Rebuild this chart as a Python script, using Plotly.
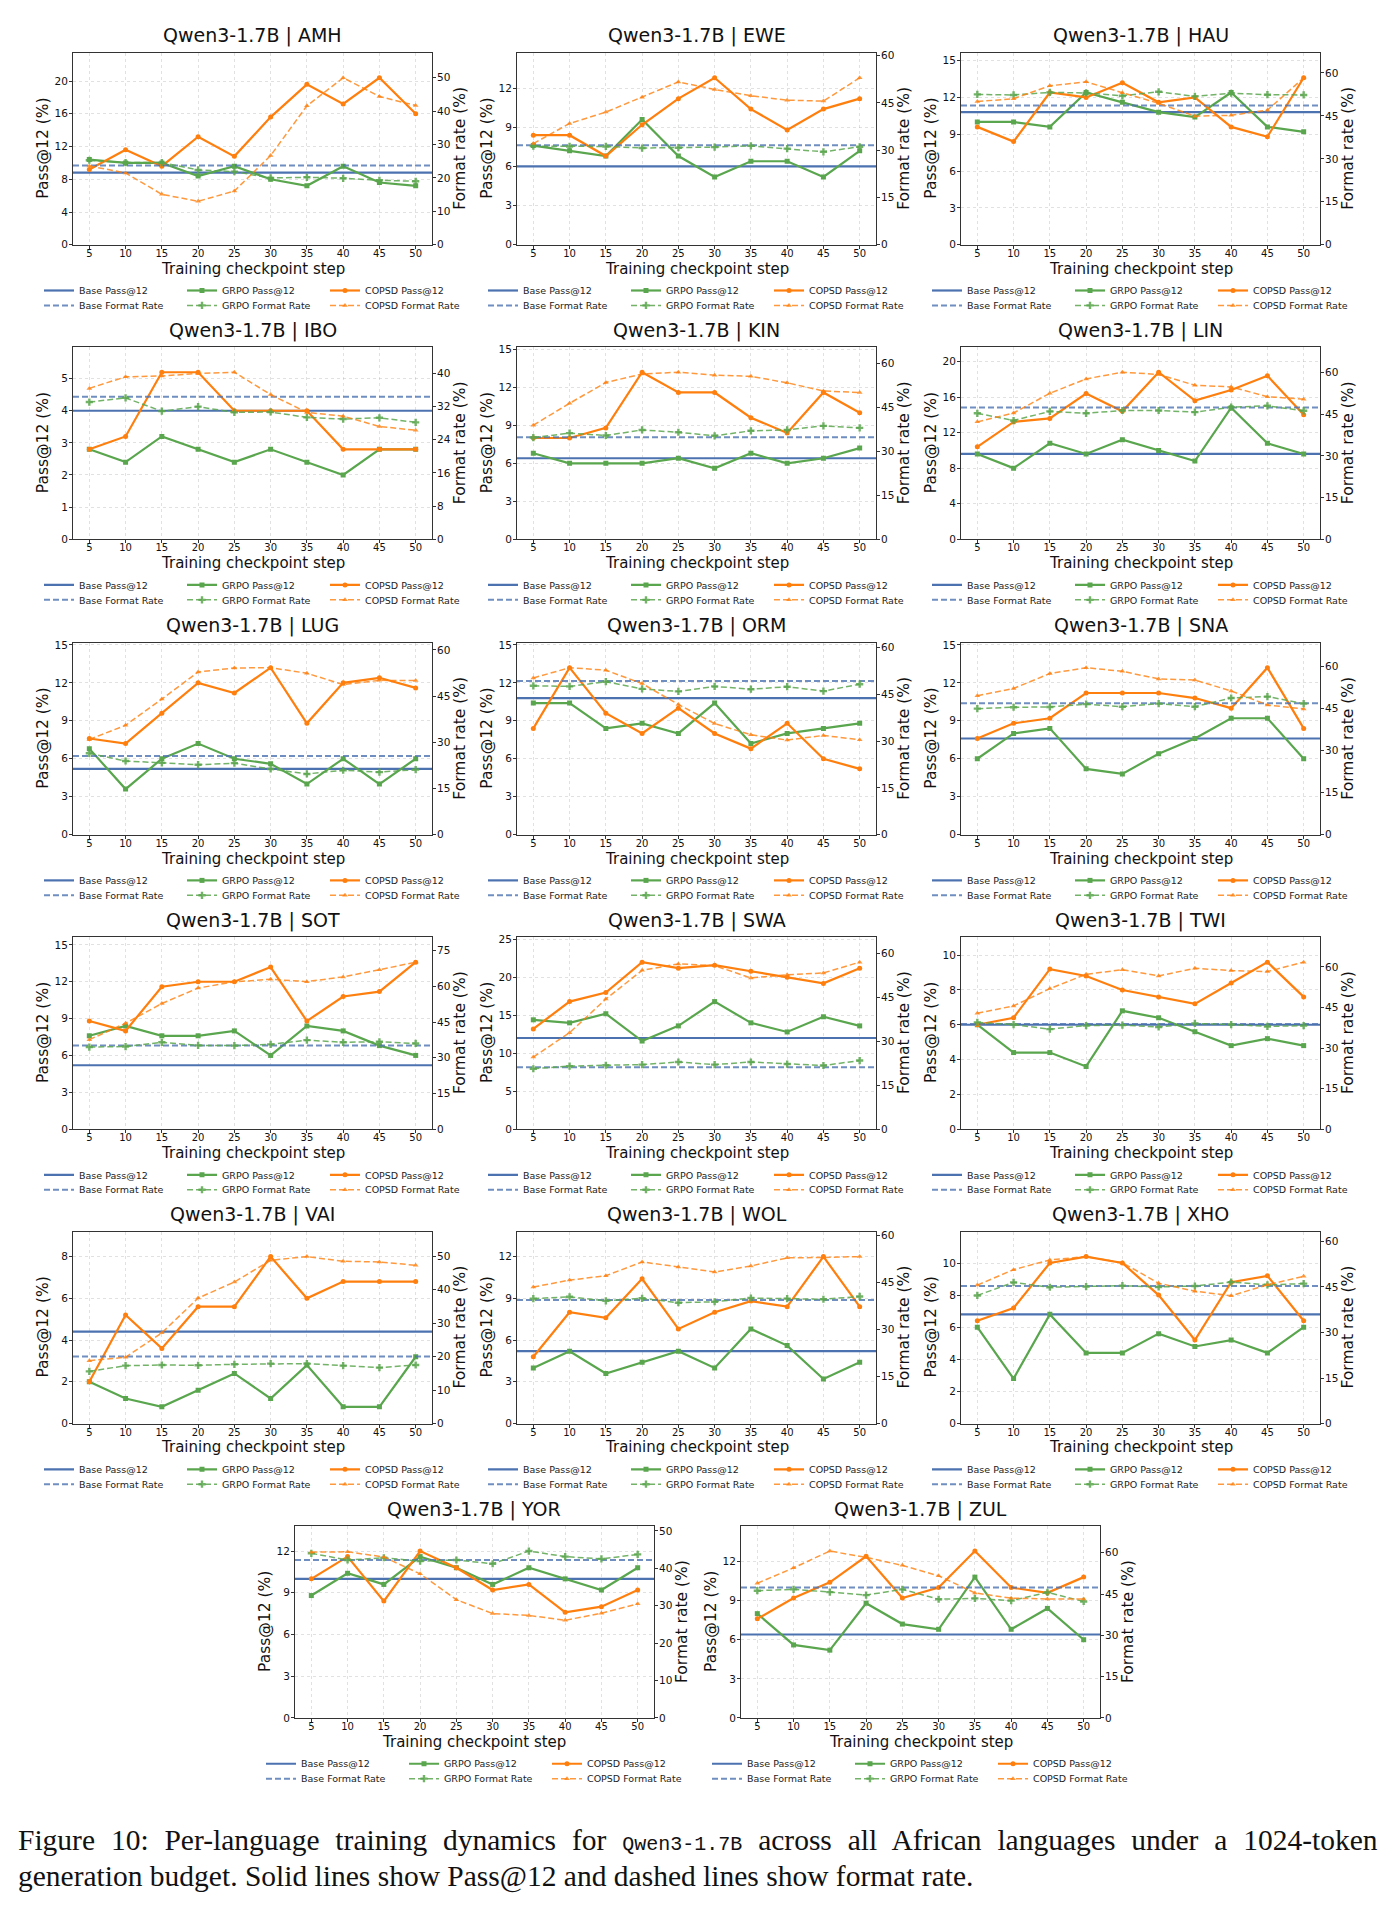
import plotly.graph_objects as go

W, H = 1392, 1911

STEPS = [5, 10, 15, 20, 25, 30, 35, 40, 45, 50]
LANGS = ["AMH", "EWE", "HAU", "IBO", "KIN", "LIN", "LUG", "ORM", "SNA",
         "SOT", "SWA", "TWI", "VAI", "WOL", "XHO", "YOR", "ZUL"]

BASE_PASS = [8.8, 6.0, 10.8, 4.0, 6.4, 9.6, 5.2, 10.8, 7.6,
             5.2, 12.0, 6.0, 4.4, 5.2, 6.8, 10.0, 6.4]
BASE_FMT = [23.7, 31.6, 48.6, 34.4, 34.8, 47.5, 25.5, 49.2, 46.8,
            35.1, 21.1, 38.9, 20.0, 39.4, 45.3, 42.2, 47.4]

AMH_GRPO_PASS = [10.4, 10.0, 10.0, 8.4, 9.6, 8.0, 7.2, 9.6, 7.6, 7.2]
AMH_GRPO_FMT = [25.3, 24.6, 24.6, 22.4, 21.9, 20.0, 20.2, 19.9, 19.3, 19.0]
AMH_COPSD_PASS = [9.2, 11.6, 9.6, 13.2, 10.8, 15.6, 19.6, 17.2, 20.4, 16.0]
AMH_COPSD_FMT = [23.6, 21.5, 15.1, 13.0, 16.1, 26.7, 41.6, 50.0, 44.4, 41.7]

EWE_GRPO_PASS = [7.6, 7.2, 6.8, 9.6, 6.8, 5.2, 6.4, 6.4, 5.2, 7.2]
EWE_GRPO_FMT = [31.3, 31.2, 31.2, 30.7, 30.8, 31.0, 31.4, 30.5, 29.5, 31.1]
EWE_COPSD_PASS = [8.4, 8.4, 6.8, 9.2, 11.2, 12.8, 10.4, 8.8, 10.4, 11.2]
EWE_COPSD_FMT = [32.1, 38.5, 42.1, 46.8, 51.7, 49.3, 47.3, 45.9, 45.6, 53.0]

HAU_GRPO_PASS = [10.0, 10.0, 9.6, 12.4, 11.6, 10.8, 10.4, 12.4, 9.6, 9.2]
HAU_GRPO_FMT = [52.5, 52.3, 53.2, 53.0, 52.0, 53.4, 51.8, 52.9, 52.4, 52.3]
HAU_COPSD_PASS = [9.6, 8.4, 12.4, 12.0, 13.2, 11.6, 12.0, 9.6, 8.8, 13.6]
HAU_COPSD_FMT = [50.0, 51.0, 55.5, 56.9, 53.1, 49.4, 44.9, 45.2, 47.0, 58.3]

IBO_GRPO_PASS = [2.8, 2.4, 3.2, 2.8, 2.4, 2.8, 2.4, 2.0, 2.8, 2.8]
IBO_GRPO_FMT = [33.1, 34.1, 30.9, 32.0, 30.6, 30.7, 29.4, 29.0, 29.3, 28.2]
IBO_COPSD_PASS = [2.8, 3.2, 5.2, 5.2, 4.0, 4.0, 4.0, 2.8, 2.8, 2.8]
IBO_COPSD_FMT = [36.4, 39.2, 39.4, 40.0, 40.3, 34.9, 30.6, 29.7, 27.2, 26.3]

KIN_GRPO_PASS = [6.8, 6.0, 6.0, 6.0, 6.4, 5.6, 6.8, 6.0, 6.4, 7.2]
KIN_GRPO_FMT = [34.7, 36.2, 35.4, 37.3, 36.5, 35.3, 37.0, 37.3, 38.7, 38.0]
KIN_COPSD_PASS = [8.0, 8.0, 8.8, 13.2, 11.6, 11.6, 9.6, 8.4, 11.6, 10.0]
KIN_COPSD_FMT = [38.9, 46.4, 53.5, 56.4, 57.0, 56.0, 55.6, 53.4, 50.6, 50.1]

LIN_GRPO_PASS = [9.6, 8.0, 10.8, 9.6, 11.2, 10.0, 8.8, 14.8, 10.8, 9.6]
LIN_GRPO_FMT = [45.4, 42.8, 46.1, 45.4, 46.4, 46.4, 45.8, 47.6, 48.1, 46.3]
LIN_COPSD_PASS = [10.4, 13.2, 13.6, 16.4, 14.4, 18.8, 15.6, 16.8, 18.4, 14.0]
LIN_COPSD_FMT = [42.3, 45.5, 52.6, 57.8, 60.2, 59.4, 55.5, 54.9, 51.4, 50.5]

LUG_GRPO_PASS = [6.8, 3.6, 6.0, 7.2, 6.0, 5.6, 4.0, 6.0, 4.0, 6.0]
LUG_GRPO_FMT = [26.4, 23.9, 23.3, 22.7, 23.2, 21.3, 19.7, 20.9, 20.3, 21.1]
LUG_COPSD_PASS = [7.6, 7.2, 9.6, 12.0, 11.2, 13.2, 8.8, 12.0, 12.4, 11.6]
LUG_COPSD_FMT = [30.9, 35.5, 44.0, 52.8, 54.1, 54.2, 52.4, 48.7, 50.1, 50.0]

ORM_GRPO_PASS = [10.4, 10.4, 8.4, 8.8, 8.0, 10.4, 7.2, 8.0, 8.4, 8.8]
ORM_GRPO_FMT = [47.7, 47.5, 49.0, 46.7, 45.9, 47.5, 46.6, 47.4, 46.0, 48.2]
ORM_COPSD_PASS = [8.4, 13.2, 9.6, 8.0, 10.0, 8.0, 6.8, 8.8, 6.0, 5.2]
ORM_COPSD_FMT = [50.2, 53.5, 52.7, 48.4, 41.7, 35.6, 32.0, 30.3, 31.8, 30.4]

SNA_GRPO_PASS = [6.0, 8.0, 8.4, 5.2, 4.8, 6.4, 7.6, 9.2, 9.2, 6.0]
SNA_GRPO_FMT = [44.9, 45.4, 45.5, 46.5, 45.6, 46.7, 45.6, 48.7, 49.2, 46.7]
SNA_COPSD_PASS = [7.6, 8.8, 9.2, 11.2, 11.2, 11.2, 10.8, 10.0, 13.2, 8.4]
SNA_COPSD_FMT = [49.5, 52.1, 57.4, 59.5, 58.2, 55.5, 55.1, 51.2, 46.2, 44.8]

SOT_GRPO_PASS = [7.6, 8.4, 7.6, 7.6, 8.0, 6.0, 8.4, 8.0, 6.8, 6.0]
SOT_GRPO_FMT = [34.5, 34.7, 36.5, 35.2, 35.1, 35.6, 37.4, 36.5, 36.7, 36.0]
SOT_COPSD_PASS = [8.8, 8.0, 11.6, 12.0, 12.0, 13.2, 8.8, 10.8, 11.2, 13.6]
SOT_COPSD_FMT = [37.6, 44.5, 52.8, 59.3, 61.9, 63.0, 62.0, 64.0, 67.0, 70.2]

SWA_GRPO_PASS = [14.4, 14.0, 15.2, 11.6, 13.6, 16.8, 14.0, 12.8, 14.8, 13.6]
SWA_GRPO_FMT = [20.6, 21.5, 21.8, 22.0, 22.9, 22.0, 22.9, 22.2, 21.7, 23.4]
SWA_COPSD_PASS = [13.2, 16.8, 18.0, 22.0, 21.2, 21.6, 20.8, 20.0, 19.2, 21.2]
SWA_COPSD_FMT = [24.6, 32.9, 44.4, 54.2, 56.4, 55.8, 51.6, 52.7, 53.3, 57.0]

TWI_GRPO_PASS = [6.0, 4.4, 4.4, 3.6, 6.8, 6.4, 5.6, 4.8, 5.2, 4.8]
TWI_GRPO_FMT = [39.5, 38.7, 37.0, 38.3, 38.5, 37.8, 39.1, 38.7, 38.0, 38.3]
TWI_COPSD_PASS = [6.0, 6.4, 9.2, 8.8, 8.0, 7.6, 7.2, 8.4, 9.6, 7.6]
TWI_COPSD_FMT = [42.9, 45.6, 52.0, 57.3, 59.0, 56.7, 59.5, 58.7, 58.3, 61.8]

VAI_GRPO_PASS = [2.0, 1.2, 0.8, 1.6, 2.4, 1.2, 2.8, 0.8, 0.8, 3.2]
VAI_GRPO_FMT = [15.6, 17.3, 17.5, 17.4, 17.7, 17.9, 17.9, 17.3, 16.7, 17.5]
VAI_COPSD_PASS = [2.0, 5.2, 3.6, 5.6, 5.6, 8.0, 6.0, 6.8, 6.8, 6.8]
VAI_COPSD_FMT = [18.8, 19.8, 27.1, 37.5, 42.3, 48.8, 49.9, 48.5, 48.3, 47.3]

WOL_GRPO_PASS = [4.0, 5.2, 3.6, 4.4, 5.2, 4.0, 6.8, 5.6, 3.2, 4.4]
WOL_GRPO_FMT = [39.8, 40.4, 39.1, 39.9, 38.5, 38.8, 40.0, 39.8, 39.6, 40.5]
WOL_COPSD_PASS = [4.8, 8.0, 7.6, 10.4, 6.8, 8.0, 8.8, 8.4, 12.0, 8.4]
WOL_COPSD_FMT = [43.5, 45.7, 47.1, 51.5, 49.9, 48.3, 50.2, 52.8, 52.9, 53.2]

XHO_GRPO_PASS = [6.0, 2.8, 6.8, 4.4, 4.4, 5.6, 4.8, 5.2, 4.4, 6.0]
XHO_GRPO_FMT = [42.2, 46.5, 44.9, 45.1, 45.4, 45.0, 45.3, 46.6, 45.7, 46.1]
XHO_COPSD_PASS = [6.4, 7.2, 10.0, 10.4, 10.0, 8.0, 5.2, 8.8, 9.2, 6.4]
XHO_COPSD_FMT = [45.6, 50.7, 53.9, 55.0, 53.0, 46.2, 43.6, 42.1, 45.7, 48.5]

YOR_GRPO_PASS = [8.8, 10.4, 9.6, 11.6, 10.8, 9.6, 10.8, 10.0, 9.2, 10.8]
YOR_GRPO_FMT = [44.0, 42.2, 42.8, 41.9, 42.2, 41.2, 44.6, 43.1, 42.5, 43.7]
YOR_COPSD_PASS = [10.0, 11.6, 8.4, 12.0, 10.8, 9.2, 9.6, 7.6, 8.0, 9.2]
YOR_COPSD_FMT = [44.3, 44.4, 43.0, 38.5, 31.6, 27.9, 27.4, 26.1, 28.0, 30.5]

ZUL_GRPO_PASS = [8.0, 5.6, 5.2, 8.8, 7.2, 6.8, 10.8, 6.8, 8.4, 6.0]
ZUL_GRPO_FMT = [46.2, 46.7, 45.7, 44.6, 46.7, 43.1, 43.4, 42.6, 45.6, 42.3]
ZUL_COPSD_PASS = [7.6, 9.2, 10.4, 12.4, 9.2, 10.0, 12.8, 10.0, 9.6, 10.8]
ZUL_COPSD_FMT = [48.9, 54.5, 60.6, 58.3, 55.4, 51.6, 45.4, 43.5, 43.2, 43.2]

PASS_DTICK = [4, 3, 3, 1, 3, 4, 3, 3, 3, 3, 5, 2, 2, 3, 2, 3, 3]
FMT_DTICK = [10, 15, 15, 8, 15, 15, 15, 15, 15, 15, 15, 15, 10, 15, 15, 10, 15]

SERIES = {
    "AMH": (AMH_GRPO_PASS, AMH_GRPO_FMT, AMH_COPSD_PASS, AMH_COPSD_FMT),
    "EWE": (EWE_GRPO_PASS, EWE_GRPO_FMT, EWE_COPSD_PASS, EWE_COPSD_FMT),
    "HAU": (HAU_GRPO_PASS, HAU_GRPO_FMT, HAU_COPSD_PASS, HAU_COPSD_FMT),
    "IBO": (IBO_GRPO_PASS, IBO_GRPO_FMT, IBO_COPSD_PASS, IBO_COPSD_FMT),
    "KIN": (KIN_GRPO_PASS, KIN_GRPO_FMT, KIN_COPSD_PASS, KIN_COPSD_FMT),
    "LIN": (LIN_GRPO_PASS, LIN_GRPO_FMT, LIN_COPSD_PASS, LIN_COPSD_FMT),
    "LUG": (LUG_GRPO_PASS, LUG_GRPO_FMT, LUG_COPSD_PASS, LUG_COPSD_FMT),
    "ORM": (ORM_GRPO_PASS, ORM_GRPO_FMT, ORM_COPSD_PASS, ORM_COPSD_FMT),
    "SNA": (SNA_GRPO_PASS, SNA_GRPO_FMT, SNA_COPSD_PASS, SNA_COPSD_FMT),
    "SOT": (SOT_GRPO_PASS, SOT_GRPO_FMT, SOT_COPSD_PASS, SOT_COPSD_FMT),
    "SWA": (SWA_GRPO_PASS, SWA_GRPO_FMT, SWA_COPSD_PASS, SWA_COPSD_FMT),
    "TWI": (TWI_GRPO_PASS, TWI_GRPO_FMT, TWI_COPSD_PASS, TWI_COPSD_FMT),
    "VAI": (VAI_GRPO_PASS, VAI_GRPO_FMT, VAI_COPSD_PASS, VAI_COPSD_FMT),
    "WOL": (WOL_GRPO_PASS, WOL_GRPO_FMT, WOL_COPSD_PASS, WOL_COPSD_FMT),
    "XHO": (XHO_GRPO_PASS, XHO_GRPO_FMT, XHO_COPSD_PASS, XHO_COPSD_FMT),
    "YOR": (YOR_GRPO_PASS, YOR_GRPO_FMT, YOR_COPSD_PASS, YOR_COPSD_FMT),
    "ZUL": (ZUL_GRPO_PASS, ZUL_GRPO_FMT, ZUL_COPSD_PASS, ZUL_COPSD_FMT),
}

# ---- styling / layout constants ----
BLUE = "#4C72B0"
BLUE_D = "rgba(76,114,176,0.8)"
GREEN = "#5AA64E"
GREEN_D = "rgba(90,166,78,0.85)"
ORANGE = "#FF7F0E"
ORANGE_D = "rgba(255,127,14,0.8)"
GRID = "rgba(170,170,170,0.35)"
AXC = "#333333"
FONT = "DejaVu Sans"

ROW_TOP = [49, 345, 642, 938, 1234, 1530]
COL_LEFT = [73, 517, 961]
LAST_LEFT = [295, 741]
PW, PH = 359, 193


def panel_pos(i):
    r = i // 3
    if r < 5:
        return COL_LEFT[i % 3], ROW_TOP[r]
    return LAST_LEFT[i % 3], ROW_TOP[r]


def axkey(p, n):
    return p + "axis" + ("" if n == 1 else str(n))


def axref(p, n):
    return p if n == 1 else f"{p}{n}"


def px(x):
    return x / W


def py(y):
    return 1 - y / H


fig = go.Figure()
layout = {}
annotations = []

xmin = STEPS[0] - 0.05 * (STEPS[-1] - STEPS[0])
xmax = STEPS[-1] + 0.05 * (STEPS[-1] - STEPS[0])

for i, lang in enumerate(LANGS):
    gp, gf, cp, cf = SERIES[lang]
    left, top = panel_pos(i)
    right, bottom = left + PW, top + PH
    cx = left + PW / 2
    cy = top + PH / 2

    xn, yl, yr = i + 1, 2 * i + 1, 2 * i + 2
    xr, ylr, yrr = axref("x", xn), axref("y", yl), axref("y", yr)
    lg1 = "legend" if i == 0 else f"legend{2 * i + 1}"
    lg2 = f"legend{2 * i + 2}"

    # Pass@12 traces (left axis)
    fig.add_trace(go.Scatter(x=[xmin, xmax], y=[BASE_PASS[i], BASE_PASS[i]], mode="lines",
                             line=dict(color=BLUE, width=2.2), name="Base Pass@12",
                             xaxis=xr, yaxis=ylr, legend=lg1, hoverinfo="skip"))
    fig.add_trace(go.Scatter(x=STEPS, y=gp, mode="lines+markers",
                             line=dict(color=GREEN, width=2.2),
                             marker=dict(symbol="square", size=5, color=GREEN),
                             name="GRPO Pass@12", xaxis=xr, yaxis=ylr, legend=lg1))
    fig.add_trace(go.Scatter(x=STEPS, y=cp, mode="lines+markers",
                             line=dict(color=ORANGE, width=2.2),
                             marker=dict(symbol="circle", size=5, color=ORANGE),
                             name="COPSD Pass@12", xaxis=xr, yaxis=ylr, legend=lg1))
    # Format-rate traces (right axis)
    fig.add_trace(go.Scatter(x=[xmin, xmax], y=[BASE_FMT[i], BASE_FMT[i]], mode="lines",
                             line=dict(color=BLUE_D, width=2, dash="6px,3px"),
                             name="Base Format Rate", xaxis=xr, yaxis=yrr, legend=lg2,
                             hoverinfo="skip"))
    fig.add_trace(go.Scatter(x=STEPS, y=gf, mode="lines+markers",
                             line=dict(color=GREEN_D, width=1.5, dash="6px,3px"),
                             marker=dict(symbol="cross", size=6, color=GREEN_D),
                             name="GRPO Format Rate", xaxis=xr, yaxis=yrr, legend=lg2))
    fig.add_trace(go.Scatter(x=STEPS, y=cf, mode="lines+markers",
                             line=dict(color=ORANGE_D, width=1.5, dash="6px,3px"),
                             marker=dict(symbol="triangle-up", size=5, color=ORANGE_D),
                             name="COPSD Format Rate", xaxis=xr, yaxis=yrr, legend=lg2))

    pmax = max(max(gp), max(cp), BASE_PASS[i]) * 1.15
    fmax = max(max(gf), max(cf), BASE_FMT[i]) * 1.15

    tickfont = dict(family=FONT, size=10.5, color="#111")
    layout[axkey("x", xn)] = dict(
        domain=[px(left), px(right)], anchor=ylr, range=[xmin, xmax],
        tickmode="array", tickvals=STEPS, ticktext=[str(s) for s in STEPS],
        ticks="outside", ticklen=3, tickwidth=1, tickcolor=AXC,
        ticklabelstandoff=-4,
        showline=True, linecolor=AXC, linewidth=1, mirror=True,
        showgrid=True, gridcolor=GRID, griddash="dot", gridwidth=1,
        zeroline=False, tickfont=dict(family=FONT, size=10, color="#111"),
        fixedrange=True)
    layout[axkey("y", yl)] = dict(
        domain=[py(bottom), py(top)], anchor=xr, range=[0, pmax],
        tick0=0, dtick=PASS_DTICK[i],
        ticks="outside", ticklen=3, tickwidth=1, tickcolor=AXC,
        ticklabelstandoff=-1,
        showline=True, linecolor=AXC, linewidth=1, mirror=False,
        showgrid=True, gridcolor=GRID, griddash="dot", gridwidth=1,
        zeroline=False, tickfont=tickfont, fixedrange=True)
    layout[axkey("y", yr)] = dict(
        overlaying=ylr, side="right", anchor=xr, range=[0, fmax],
        tick0=0, dtick=FMT_DTICK[i],
        ticks="outside", ticklen=3, tickwidth=1, tickcolor=AXC,
        ticklabelstandoff=-1,
        showline=True, linecolor=AXC, linewidth=1,
        showgrid=False, zeroline=False, tickfont=tickfont, fixedrange=True)

    # legends (two rows, three columns)
    for lg, yy in [(lg1, bottom + 46), (lg2, bottom + 61)]:
        layout[lg] = dict(
            x=px(left - 34), y=py(yy), xanchor="left", yanchor="middle",
            orientation="h", entrywidth=98, entrywidthmode="pixels",
            font=dict(family=FONT, size=9.5, color="#222"),
            bgcolor="rgba(0,0,0,0)", borderwidth=0, itemwidth=30,
            tracegroupgap=0, itemclick=False, itemdoubleclick=False)

    annotations += [
        dict(text=f"Qwen3-1.7B | {lang}", x=px(cx), y=py(top - 17), xref="paper", yref="paper",
             showarrow=False, xanchor="center", yanchor="middle",
             font=dict(family=FONT, size=19, color="#111")),
        dict(text="Training checkpoint step", x=px(cx), y=py(bottom + 24), xref="paper",
             yref="paper", showarrow=False, xanchor="center", yanchor="middle",
             font=dict(family=FONT, size=15, color="#111")),
        dict(text="Pass@12 (%)", x=px(left - 30), y=py(cy), xref="paper", yref="paper",
             showarrow=False, xanchor="center", yanchor="middle", textangle=-90,
             font=dict(family=FONT, size=15.5, color="#111")),
        dict(text="Format rate (%)", x=px(right + 28), y=py(cy), xref="paper", yref="paper",
             showarrow=False, xanchor="center", yanchor="middle", textangle=-90,
             font=dict(family=FONT, size=15.5, color="#111")),
    ]

CAPTION_1 = ("<span style=\"word-spacing:8.5px\">Figure 10: Per-language training dynamics for "
             "<span style=\"font-family:'Liberation Mono';font-size:20px\">Qwen3-1.7B</span> "
             "across all African languages under a 1024-token</span>")
CAPTION_2 = "generation budget. Solid lines show Pass@12 and dashed lines show format rate."

annotations += [
    dict(text=CAPTION_1, x=px(16), y=py(1846), xref="paper", yref="paper", showarrow=False,
         xanchor="left", yanchor="middle",
         font=dict(family="Liberation Serif", size=29.5, color="#111")),
    dict(text=CAPTION_2, x=px(16), y=py(1882), xref="paper", yref="paper", showarrow=False,
         xanchor="left", yanchor="middle",
         font=dict(family="Liberation Serif", size=29.5, color="#111")),
]

fig.update_layout(
    width=W, height=H,
    margin=dict(l=0, r=0, t=0, b=0),
    paper_bgcolor="white", plot_bgcolor="white",
    showlegend=True,
    annotations=annotations,
    font=dict(family=FONT, color="#111"),
    **layout,
)

fig.write_html("out.html")
